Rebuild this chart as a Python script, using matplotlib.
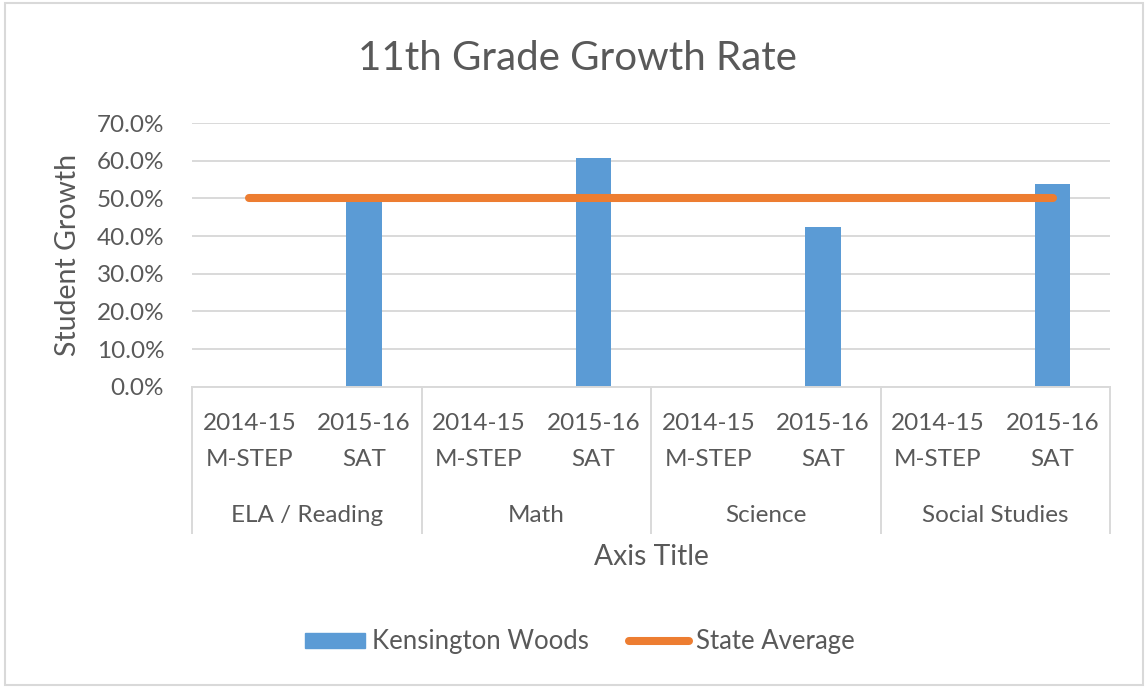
import numpy as np
import matplotlib.pyplot as plt
from matplotlib.patches import Rectangle
from matplotlib.lines import Line2D
from matplotlib.patches import Patch
from matplotlib.ticker import PercentFormatter

plt.rcParams['font.family'] = ['Lato', 'DejaVu Sans']

groups = ["ELA / Reading", "Math", "Science", "Social Studies"]
tests = ["2014-15\nM-STEP", "2015-16\nSAT"]
kensington = [np.nan, 0.495, np.nan, 0.606, np.nan, 0.424, np.nan, 0.538]
state_avg = [0.50, 0.50, 0.50, 0.50, 0.50, 0.50, 0.50, 0.50]

grey = "#595959"
gridc = "#d9d9d9"

W, H = 1146, 689
fig = plt.figure(figsize=(W/100, H/100), dpi=100)
ax = fig.add_axes([192/W, 1-386.7/H, (1110-192)/W, (386.7-123)/H])

x = np.arange(len(kensington))
ax.bar(x, kensington, width=0.31, color="#5B9BD5", zorder=2)
ax.plot(x, state_avg, color="#ED7D31", lw=5.8, solid_capstyle="round", zorder=3)

ax.set_xlim(-0.5, 7.5)
ax.set_ylim(0, 0.7)
ax.set_yticks(np.arange(0, 0.71, 0.1))
ax.yaxis.set_major_formatter(PercentFormatter(1.0, decimals=1))
ax.grid(axis="y", color=gridc, lw=1.4, zorder=0)
ax.set_axisbelow(True)
for s in ["top", "right", "left"]:
    ax.spines[s].set_visible(False)
ax.spines["bottom"].set_color(gridc)
ax.spines["bottom"].set_linewidth(1.4)
ax.tick_params(axis="y", length=0, pad=20, labelsize=17.5, labelcolor=grey)

ax.set_xticks(x)
ax.set_xticklabels(tests * len(groups))
ax.tick_params(axis="x", length=0, pad=19, labelsize=17.5, labelcolor=grey)
for lab in ax.get_xticklabels():
    lab.set_linespacing(1.85)

# group separators and group names
sep_bottom = -(533 - 386.7) / (386.7 - 123)
for i in range(len(groups) + 1):
    ax.plot([i*2 - 0.5, i*2 - 0.5], [0, sep_bottom], color=gridc, lw=1.4,
            transform=ax.get_xaxis_transform(), clip_on=False)
grp_y = -(515 - 386.7) / (386.7 - 123)
for i, g in enumerate(groups):
    ax.text(i*2 + 0.5, grp_y, g, ha="center", va="center", fontsize=17.5,
            color=grey, transform=ax.get_xaxis_transform())

fig.text(577/W, 1-59/H, "11th Grade Growth Rate", ha="center", va="center",
         fontsize=29, color=grey)
fig.text(651/W, 1-557/H, "Axis Title", ha="center", va="center",
         fontsize=20.3, color=grey)
fig.text(68/W, 1-255/H, "Student Growth", ha="center", va="center",
         fontsize=20.5, color=grey, rotation=90)

handles = [Patch(color="#5B9BD5"),
           Line2D([0], [0], color="#ED7D31", lw=5.8, solid_capstyle="round")]
fig.legend(handles, ["Kensington Woods", "State Average"], loc="center",
           bbox_to_anchor=(580/W, 1-642/H), ncol=2, frameon=False,
           fontsize=18.5, labelcolor=grey, handlelength=2.33,
           handletextpad=0.27, columnspacing=1.55, handleheight=0.55)

fig.add_artist(Rectangle((5/W, 4/H), 1138/W, 682/H, transform=fig.transFigure,
                         fill=False, edgecolor=gridc, lw=1.5))

fig.savefig("out.png", dpi=100)
